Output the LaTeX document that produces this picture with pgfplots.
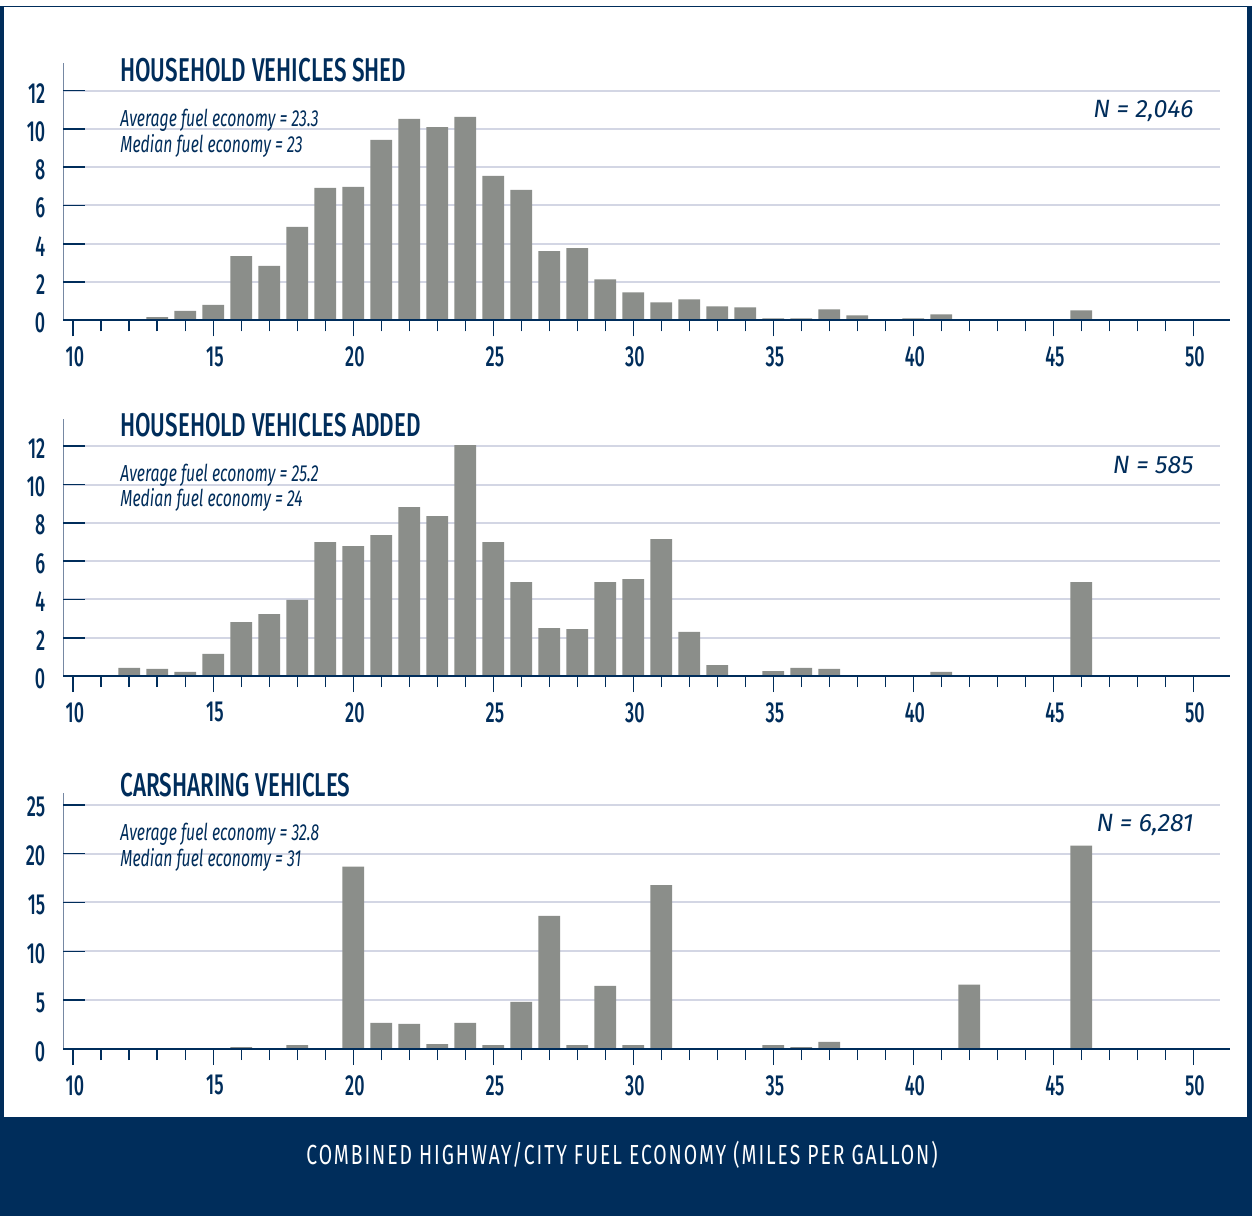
\documentclass[border=0pt]{standalone}
\usepackage{fontspec}
\setmainfont{Fira Sans}
\newfontfamily\cond{Fira Sans}[FakeStretch=0.68]
\newfontfamily\condm{Fira Sans Medium}[FakeStretch=0.62]
\newfontfamily\condt{Fira Sans Medium}[FakeStretch=0.68]
\newfontfamily\footfont{Fira Sans}[FakeStretch=0.7, LetterSpace=7]
\usepackage{pgfplots}
\pgfplotsset{compat=1.18}

\definecolor{navy}{HTML}{002D5B}
\definecolor{slate}{HTML}{7688A3}
\definecolor{barc}{HTML}{8B8E8A}
\definecolor{gridc}{HTML}{D3D6E4}

% one histogram panel
\pgfplotsset{
  panel/.style={
    scale only axis, width=578.35pt, height=128.5pt, anchor=south west,
    xmin=9.643, xmax=50.953, ymin=0, clip=false,
    axis x line*=bottom, axis y line*=left,
    x axis line style={navy, line width=0.9pt, -},
    y axis line style={slate, line width=0.8pt, -},
    xtick={10,15,...,50}, minor xtick={11,...,49},
    xtick align=outside,
    major tick length=8pt, minor tick length=5.5pt,
    xtick style={navy, line width=0.8pt},
    ytick style={draw=none},
    ymajorgrids, grid style={gridc, line width=1pt},
    tick label style={font=\condm\fontsize{14.5}{16}\selectfont, text=navy},
    /pgf/number format/assume math mode=true,
    yticklabel style={anchor=east, inner sep=0pt, xshift=-8.8pt, yshift=-1.2pt},
    xticklabel style={anchor=north, inner sep=0pt, yshift=-5pt, xshift=0.8pt},
    ybar, bar width=0.78,
  },
  bars/.style={fill=barc, draw=none},
}
% short navy y ticks inside the axis, and the x axis line drawn over the bars
\newcommand{\yticks}[1]{%
  \pgfplotsinvokeforeach{#1}{\draw[navy, line width=0.8pt] (axis cs:9.643,##1) -- (axis cs:10.414,##1);}%
  \draw[navy, line width=0.9pt] (axis cs:9.643,0) -- (axis cs:51.31,0);}

\begin{document}
\begin{tikzpicture}
\fill[white] (0,0) rectangle (626pt,-608pt);
\fill[navy] (0,-3pt) rectangle (626pt,-608pt);
\fill[white] (2pt,-3.6pt) rectangle (623.5pt,-558.5pt);

% household vehicles shed
\begin{axis}[panel, at={(31.65pt,-160.15pt)}, ymax=13.43, ytick={0,2,...,12}]
\addplot[bars] coordinates {
  (13,0.17) (14,0.49) (15,0.8) (16,3.36) (17,2.84) (18,4.88) (19,6.92)
  (20,6.97) (21,9.43) (22,10.52) (23,10.1) (24,10.63) (25,7.55) (26,6.82)
  (27,3.62) (28,3.77) (29,2.14) (30,1.46) (31,0.94) (32,1.10) (33,0.73)
  (34,0.68) (35,0.10) (36,0.10) (37,0.57) (38,0.26) (40,0.10) (41,0.31)
  (46,0.52)
};
\yticks{2,4,...,12}
\end{axis}

% household vehicles added
\begin{axis}[panel, at={(31.65pt,-338pt)}, ymax=13.42, ytick={0,2,...,12}]
\addplot[bars] coordinates {
  (12,0.42) (13,0.37) (14,0.21) (15,1.15) (16,2.82) (17,3.23) (18,3.97)
  (19,6.99) (20,6.78) (21,7.36) (22,8.82) (23,8.35) (24,12.05) (25,6.99)
  (26,4.9) (27,2.5) (28,2.45) (29,4.9) (30,5.06) (31,7.15) (32,2.30)
  (33,0.57) (35,0.26) (36,0.42) (37,0.37) (41,0.21) (46,4.9)
};
\yticks{2,4,...,12}
\end{axis}

% carsharing vehicles
\begin{axis}[panel, at={(31.65pt,-524.5pt)}, height=128pt, ymax=26.2, ytick={0,5,...,25}]
\addplot[bars] coordinates {
  (16,0.2) (18,0.41) (20,18.66) (21,2.67) (22,2.57) (23,0.51) (24,2.67)
  (25,0.41) (26,4.83) (27,13.63) (28,0.41) (29,6.47) (30,0.41) (31,16.78)
  (35,0.41) (36,0.2) (37,0.72) (42,6.6) (46,20.82)
};
\yticks{5,10,...,25}
\end{axis}

% titles and notes
\tikzset{ttl/.style={anchor=base west, inner sep=0pt, text=navy, font=\condt\fontsize{16.5}{19}\selectfont},
         note/.style={anchor=base west, inner sep=0pt, text=navy, font=\cond\itshape\fontsize{11.6}{13}\selectfont},
         nn/.style={anchor=base east, inner sep=0pt, text=navy, font=\itshape\fontsize{12.5}{14}\selectfont}}
\node[ttl] at (60pt,-40.5pt) {HOUSEHOLD VEHICLES SHED};
\node[note] at (60pt,-63pt) {Average fuel economy = 23.3};
\node[note] at (60pt,-76pt) {Median fuel economy = 23};
\node[nn] at (597pt,-58.5pt) {N = 2,046};

\node[ttl] at (60pt,-218.3pt) {HOUSEHOLD VEHICLES ADDED};
\node[note] at (60pt,-240.5pt) {Average fuel economy = 25.2};
\node[note] at (60pt,-253.3pt) {Median fuel economy = 24};
\node[nn] at (597pt,-236.5pt) {N = 585};

\node[ttl] at (60pt,-398pt) {CARSHARING VEHICLES};
\node[note] at (60pt,-420pt) {Average fuel economy = 32.8};
\node[note] at (60pt,-433pt) {Median fuel economy = 31};
\node[nn] at (597pt,-415.5pt) {N = 6,281};

\node[text=white, font=\footfont\fontsize{13.8}{16}\selectfont] at (311pt,-577.5pt) {COMBINED HIGHWAY/CITY FUEL ECONOMY (MILES PER GALLON)};
\end{tikzpicture}
\end{document}
